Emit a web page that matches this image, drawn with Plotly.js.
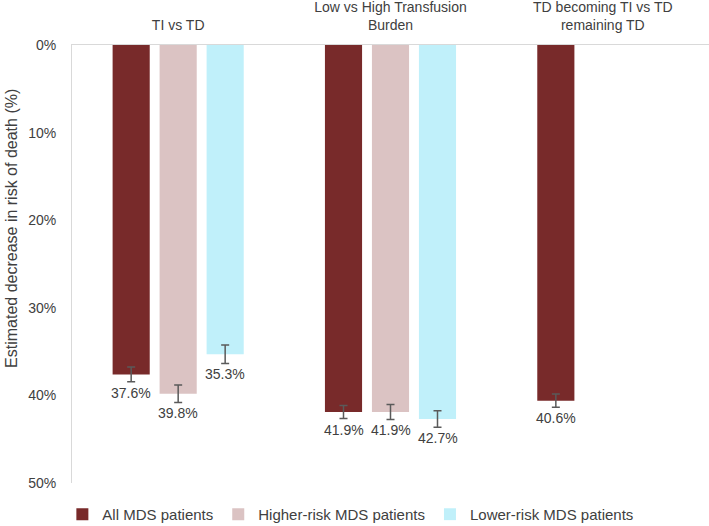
<!DOCTYPE html>
<html>
<head>
<meta charset="utf-8">
<script src="https://cdn.plot.ly/plotly-3.0.1.min.js"></script>
<style>html,body{margin:0;padding:0;background:#fff;}#chart{width:709px;height:526px;}</style>
</head>
<body>
<div id="chart"></div>
<script>
var categories = ["TI vs TD", "Low vs High Transfusion<br>Burden", "TD becoming TI vs TD<br>remaining TD"];
var seriesNames = ["All MDS patients", "Higher-risk MDS patients", "Lower-risk MDS patients"];
var allMDS = [37.6, 41.9, 40.6];
var higherRisk = [39.8, 41.9, null];
var lowerRisk = [35.3, 42.7, null];
var allMDSErr = [0.85, 0.75, 0.75];
var higherRiskErr = [1.0, 0.85, null];
var lowerRiskErr = [1.05, 0.95, null];
var colors = ["#782A2A", "#DBC3C3", "#C0F0FA"];
var yTitle = 'Estimated decrease in risk of death (%)';

var values = [allMDS, higherRisk, lowerRisk];
var errs = [allMDSErr, higherRiskErr, lowerRiskErr];
var txt = '#404040';
var fontFam = '"Liberation Sans", Arial, sans-serif';

var traces = [];
for (var s = 0; s < 3; s++) {
  traces.push({
    type: 'bar',
    name: seriesNames[s],
    x: categories,
    y: values[s],
    marker: {color: colors[s]},
    error_y: {type: 'data', array: errs[s], visible: true, color: '#5a5a5a', thickness: 1.5, width: 4},
    hoverinfo: 'none'
  });
}

var baseAnns = [{
  xref: 'paper', yref: 'paper', x: 0, y: 0.58, xshift: -60,
  text: yTitle, textangle: -90, showarrow: false,
  xanchor: 'center', yanchor: 'middle',
  font: {size: 16, color: txt}
}];

var layout = {
  width: 709, height: 526,
  margin: {l: 72, r: 0, t: 45, b: 43, autoexpand: false},
  paper_bgcolor: '#fff', plot_bgcolor: '#fff',
  font: {family: fontFam, size: 14, color: txt},
  barmode: 'group',
  bargap: 0.336,
  bargroupgap: 0.21,
  showlegend: true,
  legend: {orientation: 'h', x: 0.437, xanchor: 'center', y: -0.034, yanchor: 'top',
           font: {size: 15, color: txt}, itemwidth: 30, traceorder: 'normal'},
  xaxis: {side: 'top', showline: true, linecolor: '#d9d9d9', linewidth: 1, automargin: false,
          ticks: '', ticklabelstandoff: 8, tickfont: {size: 14, color: txt}, fixedrange: true},
  yaxis: {range: [50, 0], dtick: 10, ticksuffix: '%', showgrid: false, zeroline: false, automargin: false,
          showline: true, linecolor: '#d9d9d9', linewidth: 1, ticks: '', ticklabelstandoff: 12,
          tickfont: {size: 14, color: txt}},
  annotations: baseAnns
};

var plot = document.getElementById('chart');
Plotly.newPlot(plot, traces, layout, {staticPlot: true}).then(function() {
  var anns = baseAnns.slice();
  for (var s = 0; s < 3; s++) {
    var cd = plot.calcdata[s];
    for (var i = 0; i < cd.length; i++) {
      var v = values[s][i];
      if (v === null || v === undefined) continue;
      anns.push({
        xref: 'x', yref: 'y',
        x: cd[i].x, y: v + errs[s][i],
        text: v.toFixed(1) + '%',
        showarrow: false, yanchor: 'top', xanchor: 'center', yshift: -1,
        font: {size: 14, color: txt}
      });
    }
  }
  Plotly.relayout(plot, {annotations: anns});
});
</script>
</body>
</html>
